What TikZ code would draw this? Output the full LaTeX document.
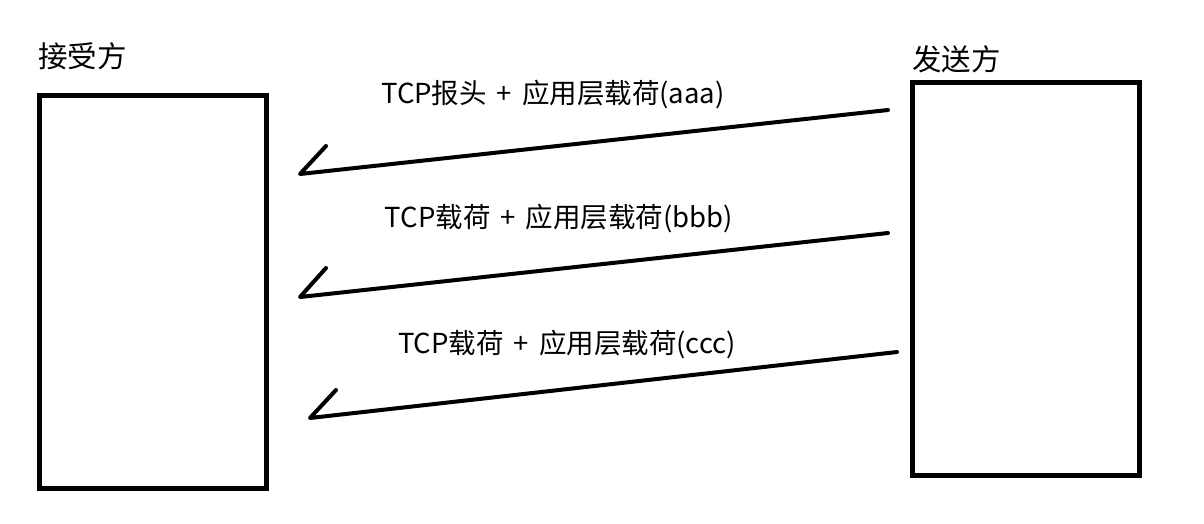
\documentclass[tikz,border=0pt]{standalone}
\usepackage{fontspec}
\newfontfamily\cjk{Noto Sans CJK SC}
\newcommand{\gapsp}{\hspace{10pt}}
\begin{document}
\begin{tikzpicture}[x=1pt,y=-1pt,
  party/.style={draw=black,line width=4.5pt,minimum width=227pt,minimum height=393pt,inner sep=0pt,anchor=north west},
  title/.style={font=\cjk\fontsize{29.5}{32}\selectfont,anchor=west,inner sep=0pt},
  lbl/.style={font=\cjk\fontsize{27.5}{30}\selectfont,inner sep=0pt},
  msg/.style={line width=4pt,line cap=round,line join=round}]
\useasboundingbox[fill=white] (0,0) rectangle (1204,523);
\node[party] (recv) at (37,93) {};
\node[party] (send) at (910,80) {};
\node[title] (recvt) at (38,56) {接受方};
\node[title] (sendt) at (912,59) {发送方};
\coordinate (s1) at (888,110); \coordinate (e1) at (300,174); \coordinate (t1) at (326,146);
\coordinate (s2) at (888,233); \coordinate (e2) at (300,297); \coordinate (t2) at (326,268);
\coordinate (s3) at (897,352); \coordinate (e3) at (310,418); \coordinate (t3) at (336,390);
\draw[msg] (s1) -- (e1) -- (t1);
\draw[msg] (s2) -- (e2) -- (t2);
\draw[msg] (s3) -- (e3) -- (t3);
\node[lbl] (l1) at (553,95) {TCP报头\gapsp{}+\gapsp{}应用层载荷(aaa)};
\node[lbl] (l2) at (559,219) {TCP载荷\gapsp{}+\gapsp{}应用层载荷(bbb)};
\node[lbl] (l3) at (567,345) {TCP载荷\gapsp{}+\gapsp{}应用层载荷(ccc)};
\end{tikzpicture}
\end{document}
